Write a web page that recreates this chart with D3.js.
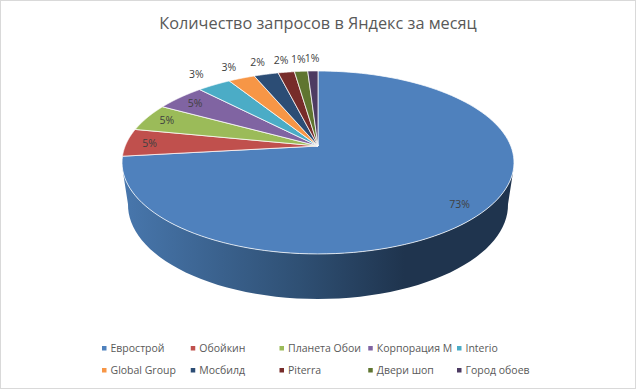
<!DOCTYPE html>
<html>
<head>
<meta charset="utf-8">
<script src="https://cdn.jsdelivr.net/npm/d3@7"></script>
<style>
    html, body { margin: 0; padding: 0; background: #fff; }
    svg { display: block; }
    text { font-family: "Open Sans", sans-serif; }
</style>
</head>
<body>
<div id="chart"></div>
<script>
const title = "Количество запросов в Яндекс за месяц";
const categories = ["Еврострой", "Обойкин", "Планета Обои", "Корпорация М", "Interio",
    "Global Group", "Мосбилд", "Piterra", "Двери шоп", "Город обоев"];
const values = [73.2, 4.9, 4.9, 4.8, 3.3, 2.6, 2.4, 1.6, 1.3, 1.0];
const colors = ["#4f81bd", "#c0504d", "#9bbb59", "#8064a2", "#4bacc6",
    "#f79646", "#2c4d75", "#772c2a", "#5f7530", "#4d3b62"];

const width = 636, height = 389;

const svg = d3.select("#chart")
    .append("svg")
    .attr("width", width)
    .attr("height", height);

// Chart frame
svg.append("rect")
    .attr("x", 0.5)
    .attr("y", 0.5)
    .attr("width", width - 1)
    .attr("height", height - 1)
    .attr("fill", "#fff")
    .attr("stroke", "#d9d9d9");

// Gradient for the side wall, lighter on the left and dark from the middle on
const grad = svg.append("defs")
    .append("linearGradient")
    .attr("id", "wall")
    .attr("gradientUnits", "userSpaceOnUse")
    .attr("x1", 122).attr("x2", 514).attr("y1", 0).attr("y2", 0);
grad.append("stop").attr("offset", "0").attr("stop-color", "#4877ad");
grad.append("stop").attr("offset", "0.45").attr("stop-color", "#2f5074");
grad.append("stop").attr("offset", "0.72").attr("stop-color", "#1f344e");
grad.append("stop").attr("offset", "1").attr("stop-color", "#1f344e");

// Perspective of the pie: disc plane to screen
const topPlane = {cx: 318, cy: 146, a: 88.5, b: 192.8, k: 0.18};
const bottomPlane = {cx: 318, cy: 188, a: 91, b: 186.9, k: 0.18};

function project(plane, angle, r) {
    const u = r * Math.sin(angle);
    const v = -r * Math.cos(angle);
    const d = 1 - plane.k * v;
    return [plane.cx + plane.b * u / d, plane.cy + plane.a * v / d];
}

const pie = d3.pie().value(d => d).sort(null);
const arcs = pie(values);
const total = d3.sum(values);
const line = d3.line();
const rad = d => d * Math.PI / 180;

function rim(plane, a0, a1) {
    return d3.range(0, 61).map(i => project(plane, a0 + (a1 - a0) * i / 60, 1));
}

// Side wall: only the front of the disc can be seen
svg.append("path")
    .attr("d", line(rim(topPlane, rad(105), rad(255)).concat(rim(bottomPlane, rad(260), rad(100)))) + "Z")
    .attr("fill", "url(#wall)");

// Top face
svg.append("g")
    .selectAll("path")
    .data(arcs)
    .join("path")
    .attr("d", d => line([[topPlane.cx, topPlane.cy]].concat(
        d3.range(0, 121).map(i => project(topPlane, d.startAngle + (d.endAngle - d.startAngle) * i / 120, 1)))) + "Z")
    .attr("fill", (d, i) => colors[i])
    .attr("stroke", "#fff")
    .attr("stroke-width", 0.75)
    .attr("stroke-linejoin", "round");

// Percent labels, thin slices get theirs outside the rim
svg.append("g")
    .selectAll("text")
    .data(arcs)
    .join("text")
    .attr("transform", d => {
        const share = d.value / total;
        const p = project(topPlane, (d.startAngle + d.endAngle) / 2, share < 0.04 ? 1.2 : 0.88);
        return `translate(${p[0]},${p[1]})`;
    })
    .attr("text-anchor", "middle")
    .attr("dy", "0.35em")
    .attr("font-size", 10.5)
    .attr("fill", "#404040")
    .text(d => `${Math.round(d.value / total * 100)}%`);

// Title
svg.append("text")
    .attr("x", 318)
    .attr("y", 29)
    .attr("text-anchor", "middle")
    .attr("font-size", 16.3)
    .attr("fill", "#595959")
    .text(title);

// Legend, two rows of five
const legendX = d3.scalePoint().domain(d3.range(5)).range([102, 457]);
const legendY = d3.scalePoint().domain([0, 1]).range([348, 370]);

const legend = svg.append("g")
    .selectAll("g")
    .data(categories)
    .join("g")
    .attr("transform", (d, i) => `translate(${legendX(i % 5)},${legendY(Math.floor(i / 5))})`);

legend.append("rect")
    .attr("y", -2)
    .attr("width", 4.5)
    .attr("height", 4.5)
    .attr("fill", (d, i) => colors[i]);

legend.append("text")
    .attr("x", 8.5)
    .attr("dy", "0.35em")
    .attr("font-size", 10.5)
    .attr("fill", "#595959")
    .text(d => d);
</script>
</body>
</html>
